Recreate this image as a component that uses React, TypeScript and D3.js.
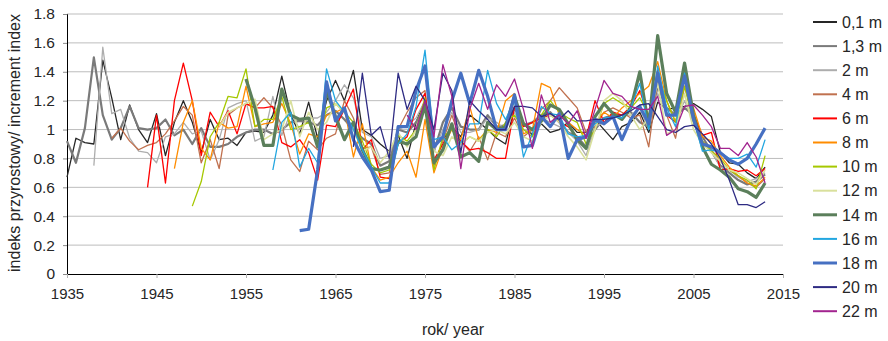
import React, { useEffect, useRef } from "react";
import * as d3 from "d3";

// series labels (sampling height) and first year of each record
const seriesNames = ["0,1 m", "1,3 m", "2 m", "4 m", "6 m", "8 m", "10 m", "12 m", "14 m", "16 m", "18 m", "20 m", "22 m"];
const startYears = [1935, 1935, 1938, 1940, 1944, 1947, 1949, 1952, 1955, 1958, 1961, 1967, 1973];

// increment index per year, all records end in 2013
const h01 = [
  0.67, 0.94, 0.91, 0.90, 1.48, 1.22, 0.93, 1.17, 1.00, 0.91,
  1.11, 0.82, 1.05, 1.20, 1.05, 0.84, 1.07, 0.93, 0.94, 0.89,
  0.98, 0.99, 0.98, 1.10, 1.37, 1.10, 0.97, 1.19, 0.94, 1.20,
  1.34, 1.20, 1.41, 1.00, 0.96, 0.90, 0.85, 0.96, 0.80, 1.05,
  1.20, 0.90, 0.93, 1.02, 0.95, 1.10, 1.05, 1.00, 0.94, 0.90,
  1.15, 1.05, 0.96, 1.04, 0.98, 1.00, 1.05, 0.98, 0.98, 1.07,
  1.00, 0.93, 1.02, 1.05, 1.12, 0.98, 1.19, 1.14, 1.15, 1.16,
  1.18, 1.14, 1.09, 0.84, 0.77, 0.76, 0.70, 0.66, 0.74,
];
const h13 = [
  0.92, 0.77, 1.01, 1.50, 1.10, 0.93, 1.01, 1.16, 1.01, 1.00,
  1.01, 1.07, 0.96, 1.00, 0.90, 1.01, 0.88, 0.88, 0.90, 0.95,
  0.98, 1.00, 1.00, 0.97, 1.00, 1.05, 1.06, 1.05, 1.03, 1.10,
  1.13, 1.07, 1.00, 0.94, 0.90, 0.75, 0.78, 1.00, 0.98, 1.05,
  1.16, 0.85, 1.05, 1.15, 1.02, 1.00, 1.00, 1.10, 1.02, 1.03,
  1.15, 1.03, 1.05, 1.10, 1.12, 1.05, 0.98, 0.95, 0.88, 1.00,
  1.08, 1.10, 1.10, 1.12, 1.05, 1.02, 1.30, 1.15, 1.10, 1.15,
  1.10, 0.95, 0.85, 0.75, 0.70, 0.65, 0.62, 0.64, 0.69,
];
const h2 = [
  0.75, 1.57, 1.11, 1.14, 0.94, 0.85, 0.84,
  0.77, 0.95, 0.97, 1.05, 0.97, 0.99, 0.79, 0.93, 1.15, 1.18,
  1.20, 0.92, 0.95, 1.23, 0.96, 1.12, 1.00, 1.08, 1.08, 1.12,
  1.20, 1.31, 1.22, 0.98, 0.95, 0.80, 0.82, 1.00, 1.03, 1.08,
  1.20, 0.85, 1.00, 1.12, 0.98, 0.98, 1.00, 1.08, 1.05, 1.00,
  1.12, 1.00, 0.98, 1.08, 1.05, 1.02, 0.98, 0.92, 0.82, 1.02,
  1.05, 1.08, 1.10, 1.10, 1.15, 1.00, 1.25, 1.12, 1.05, 1.20,
  1.05, 0.90, 0.85, 0.74, 0.72, 0.67, 0.64, 0.66, 0.70,
];
const h4 = [
  0.94, 1.01, 0.92, 0.86, 0.89,
  0.91, 0.97, 1.06, 1.16, 1.10, 0.77, 0.93, 0.73, 1.10, 1.15,
  1.18, 1.15, 1.22, 1.15, 1.03, 0.79, 0.71, 0.92, 0.86, 0.94,
  0.97, 1.20, 1.08, 0.87, 0.88, 0.69, 0.70, 1.00, 1.12, 1.22,
  1.27, 0.75, 0.92, 1.10, 0.92, 0.85, 0.95, 0.79, 0.98, 0.95,
  1.08, 0.95, 1.00, 1.14, 1.20, 1.29, 1.22, 1.15, 0.98, 1.02,
  1.12, 1.15, 1.12, 1.08, 1.10, 0.88, 1.35, 1.10, 0.94, 1.30,
  1.08, 0.92, 0.86, 0.78, 0.72, 0.68, 0.63, 0.60, 0.66,
];
const h6 = [
  0.60,
  1.10, 0.63, 1.20, 1.46, 1.20, 0.82, 1.12, 1.02, 1.13, 0.97,
  1.18, 1.15, 1.15, 1.16, 0.91, 0.88, 0.93, 0.84, 0.65, 1.03,
  1.02, 1.14, 1.28, 0.86, 0.93, 0.67, 0.66, 0.90, 0.95, 1.14,
  1.25, 0.79, 0.90, 1.02, 0.92, 0.86, 0.87, 0.84, 0.80, 0.80,
  1.16, 1.02, 1.05, 1.08, 1.10, 1.05, 1.02, 0.95, 0.94, 1.20,
  1.05, 1.12, 1.10, 1.16, 1.27, 1.08, 1.41, 1.10, 1.05, 1.35,
  1.10, 0.96, 0.98, 0.72, 0.73, 0.71, 0.72, 0.68, 0.73,
];
const h8 = [
  0.73, 1.05, 1.20, 0.87, 0.79, 1.05, 1.01, 1.02,
  1.30, 1.02, 1.04, 1.05, 1.18, 1.04, 0.83, 0.97, 0.95, 1.10,
  1.12, 1.15, 0.81, 1.04, 0.74, 0.65, 0.67, 0.77, 0.85, 0.67,
  1.07, 0.70, 0.88, 1.00, 0.93, 1.16, 0.93, 1.00, 0.98, 1.20,
  1.25, 0.97, 1.00, 1.32, 1.29, 1.10, 1.05, 1.00, 0.96, 1.05,
  1.12, 1.08, 1.15, 1.20, 1.25, 1.30, 1.47, 1.20, 1.05, 1.35,
  1.15, 0.95, 0.92, 0.82, 0.74, 0.68, 0.63, 0.61, 0.67,
];
const h10 = [
  0.47, 0.64, 0.95, 1.05, 1.23, 1.22,
  1.42, 1.02, 1.07, 1.07, 1.23, 1.00, 1.02, 1.05, 0.90, 1.15,
  1.18, 1.12, 1.05, 0.92, 0.76, 0.70, 0.72, 0.96, 0.92, 1.00,
  1.22, 0.72, 0.95, 1.00, 0.90, 0.95, 0.92, 1.00, 0.95, 1.05,
  1.10, 1.00, 0.95, 1.10, 1.20, 1.12, 1.08, 1.05, 0.90, 1.00,
  1.18, 1.22, 1.18, 1.15, 1.22, 1.10, 1.38, 1.20, 1.05, 1.30,
  1.05, 0.92, 0.85, 0.80, 0.72, 0.68, 0.65, 0.59, 0.82,
];
const h12 = [
  1.02, 1.12, 1.15,
  1.18, 1.21, 0.93, 0.97, 1.00, 1.20, 0.95, 1.12, 1.00, 1.05,
  1.18, 1.12, 1.00, 0.85, 0.88, 0.77, 0.85, 0.98, 0.88, 1.00,
  1.15, 0.85, 0.82, 0.95, 0.90, 0.95, 0.92, 0.98, 1.00, 0.97,
  1.05, 0.95, 0.92, 1.05, 1.10, 1.05, 0.95, 0.88, 0.79, 1.00,
  1.20, 1.25, 1.20, 1.10, 1.00, 1.08, 1.32, 0.97, 1.00, 1.25,
  1.00, 0.90, 0.84, 0.78, 0.72, 0.70, 0.66, 0.62, 0.72,
];
const h14 = [
  1.35, 1.15, 0.89, 0.89, 1.28, 1.10, 1.07, 1.08, 0.88, 1.27,
  1.09, 0.93, 1.05, 0.86, 0.73, 0.72, 0.74, 0.92, 0.90, 0.95,
  1.17, 0.77, 0.86, 1.04, 0.81, 0.84, 0.78, 1.05, 1.00, 1.02,
  1.23, 1.04, 1.00, 1.06, 1.17, 1.14, 1.04, 0.93, 0.87, 1.09,
  1.18, 1.11, 1.07, 1.15, 1.40, 1.02, 1.65, 1.25, 1.12, 1.46,
  1.10, 0.88, 0.76, 0.72, 0.67, 0.59, 0.57, 0.53, 0.63,
];
const h16 = [
  0.72, 1.05, 1.12, 0.74, 0.87, 0.77, 1.42,
  1.20, 1.12, 1.00, 0.86, 0.74, 0.63, 0.63, 0.90, 0.97, 1.16,
  1.55, 0.93, 0.95, 0.86, 0.91, 1.04, 1.04, 1.41, 1.18, 1.07,
  1.20, 0.81, 0.97, 1.16, 1.11, 1.10, 0.97, 0.95, 0.96, 1.04,
  1.08, 1.09, 1.08, 1.15, 1.32, 1.00, 1.44, 1.15, 1.02, 1.39,
  1.07, 0.85, 0.86, 0.84, 0.80, 0.80, 0.83, 0.74, 0.93,
];
const h18 = [
  0.30, 0.31, 0.72, 1.33,
  1.06, 1.15, 0.93, 0.81, 0.72, 0.57, 0.58, 1.02, 1.02, 1.27,
  1.44, 0.88, 0.95, 1.20, 1.39, 1.18, 1.41, 1.23, 1.00, 1.00,
  1.24, 0.88, 0.89, 1.09, 1.02, 1.11, 0.80, 0.93, 0.95, 1.07,
  1.04, 1.09, 0.93, 1.07, 1.16, 1.04, 1.39, 1.10, 1.10, 1.37,
  1.07, 0.90, 0.88, 0.84, 0.79, 0.76, 0.80, 0.90, 1.01,
];
const h20 = [
  0.88, 1.39, 0.96, 1.02, 0.80, 1.39, 1.14, 1.30,
  1.20, 1.00, 1.39, 1.27, 0.84, 1.20, 1.13, 1.07, 1.00, 1.00,
  1.16, 1.16, 1.15, 1.09, 1.11, 1.07, 1.13, 1.06, 1.06, 1.07,
  1.07, 1.08, 1.10, 1.13, 1.17, 1.18, 1.09, 1.00, 0.98, 1.02,
  1.03, 0.97, 0.90, 0.80, 0.65, 0.48, 0.48, 0.46, 0.50,
];
const h22 = [
  1.10, 1.00,
  1.20, 0.95, 1.45, 1.23, 0.73, 1.14, 1.32, 1.14, 1.31, 1.23,
  1.35, 1.14, 0.87, 1.24, 1.05, 1.10, 1.04, 1.13, 0.94, 1.14,
  1.34, 1.25, 1.23, 1.16, 1.14, 1.14, 1.23, 0.96, 1.00, 1.16,
  1.17, 1.10, 1.02, 0.87, 0.87, 0.82, 0.91, 0.81, 0.63,
];
const seriesValues = [h01, h13, h2, h4, h6, h8, h10, h12, h14, h16, h18, h20, h22];

const xTicks = [1935, 1945, 1955, 1965, 1975, 1985, 1995, 2005, 2015];
const yTicks = [0, 0.2, 0.4, 0.6, 0.8, 1, 1.2, 1.4, 1.6, 1.8];
const yTickLabels = ["0", "0.2", "0.4", "0.6", "0.8", "1", "1.2", "1.4", "1.6", "1.8"];

const colors = ["#262626", "#7a7a7a", "#adadad", "#c0714f", "#ff0000", "#ff8c00", "#a6c800",
  "#d9e09c", "#5b7f5b", "#22a6e0", "#4670c2", "#2e2b83", "#a2248f"];
const widths = [1.3, 2.2, 1.3, 1.3, 1.3, 1.3, 1.3, 1.6, 3.2, 1.3, 3.2, 1.3, 1.3];

const W = 888;
const H = 341;
const FONT = "'Liberation Sans', Arial, sans-serif";

export default function App() {
  const ref = useRef<SVGSVGElement>(null);

  useEffect(() => {
    const svg = d3.select(ref.current);
    svg.selectAll("*").remove();

    const x = d3.scaleLinear().domain([1935, 2015]).range([67, 783]);
    const y = d3.scaleLinear().domain([0, 1.8]).range([274, 14]);

    // gridlines
    svg.append("g")
      .selectAll("line")
      .data(yTicks.slice(1))
      .join("line")
      .attr("x1", x(1935)).attr("x2", x(2015))
      .attr("y1", d => y(d)).attr("y2", d => y(d))
      .attr("stroke", "#bdbdbd").attr("stroke-width", 1);

    // y axis
    const yAxis = svg.append("g").attr("transform", `translate(${x(1935)},0)`)
      .call(d3.axisLeft(y).tickValues(yTicks).tickSize(4).tickFormat((_, i) => yTickLabels[i]));
    yAxis.select(".domain").attr("stroke", "#000");
    yAxis.selectAll(".tick line").attr("stroke", "#8c8c8c");
    yAxis.selectAll("text").attr("font-family", FONT).attr("font-size", 15.5)
      .attr("fill", "#262626").attr("x", -12);

    // x axis
    const xAxis = svg.append("g").attr("transform", `translate(0,${y(0)})`)
      .call(d3.axisBottom(x).tickValues(xTicks).tickSize(4).tickFormat(d3.format("d")));
    xAxis.select(".domain").attr("stroke", "#000");
    xAxis.selectAll(".tick line").attr("stroke", "#b0b0b0");
    xAxis.selectAll("text").attr("font-family", FONT).attr("font-size", 15)
      .attr("fill", "#262626").attr("y", 14);

    // series
    seriesValues.forEach((vals, s) => {
      const ln = d3.line<number>()
        .x((_, i) => x(startYears[s] + i))
        .y(d => y(d));
      svg.append("path")
        .datum(vals)
        .attr("d", ln)
        .attr("fill", "none")
        .attr("stroke", colors[s])
        .attr("stroke-width", widths[s])
        .attr("stroke-linejoin", "round");
    });

    // axis titles
    svg.append("text")
      .attr("transform", `translate(20,143) rotate(-90)`)
      .attr("text-anchor", "middle")
      .attr("font-family", FONT).attr("font-size", 16).attr("fill", "#262626")
      .text("indeks przyrostowy/ increment index");
    svg.append("text")
      .attr("x", 453).attr("y", 335)
      .attr("text-anchor", "middle")
      .attr("font-family", FONT).attr("font-size", 16).attr("fill", "#262626")
      .text("rok/ year");

    // legend
    const legend = svg.append("g")
      .selectAll("g")
      .data(seriesNames)
      .join("g")
      .attr("transform", (_, i) => `translate(813,${22 + i * 24.1})`);
    legend.append("line")
      .attr("x1", 0).attr("x2", 24)
      .attr("stroke", (_, i) => colors[i])
      .attr("stroke-width", (_, i) => (widths[i] > 3 ? 3 : 2));
    legend.append("text")
      .attr("x", 29).attr("dy", "0.36em")
      .attr("font-family", FONT).attr("font-size", 16).attr("fill", "#262626")
      .text(d => d);
  }, []);

  return (
    <svg ref={ref} width={W} height={H}
      style={{ position: "absolute", left: 0, top: 0, background: "#fff" }} />
  );
}
